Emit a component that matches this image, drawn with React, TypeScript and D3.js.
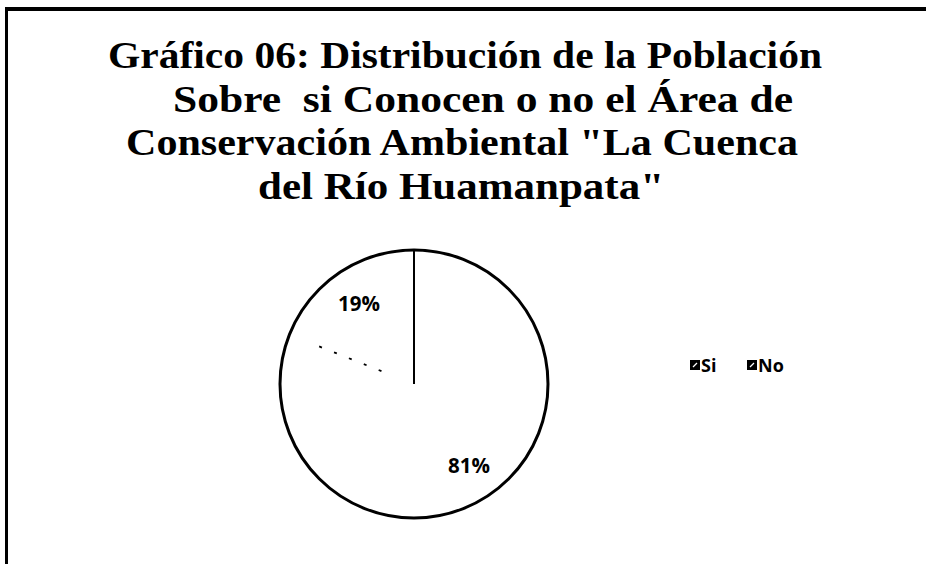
import React from "react";
import * as d3 from "d3";

const categories = ["Si", "No"];
const values = [81, 19];
const titleLines = [
  "Gráfico 06: Distribución de la Población",
  "Sobre  si Conocen o no el Área de",
  "Conservación Ambiental \"La Cuenca",
  "del Río Huamanpata\"",
];

export default function App() {
  const W = 926, H = 564;
  const cx = 414, cy = 384, r = 134;
  const pie = d3.pie<number>().sort(null).startAngle(0).endAngle(2 * Math.PI);
  const arcs = pie([values[0], values[1]]);
  const arcGen = d3.arc<d3.PieArcDatum<number>>().innerRadius(0).outerRadius(r);
  const labelArc = d3.arc<d3.PieArcDatum<number>>().innerRadius(r * 0.73).outerRadius(r * 0.73);
  const boundary = arcs[0].endAngle;
  const bx = Math.sin(boundary), by = -Math.cos(boundary);
  const titleBoxes = [
    { x: 108, w: 714 },
    { x: 173, w: 620 },
    { x: 126, w: 672 },
    { x: 258, w: 406 },
  ];

  return (
    <svg width={W} height={H} style={{ position: "absolute", left: 0, top: 0, background: "#fff" }}>
      <rect x={0} y={0} width={W} height={H} fill="#fff" />
      <line x1={6.5} y1={7} x2={6.5} y2={H} stroke="#000" strokeWidth={3} />
      <line x1={5} y1={9} x2={W} y2={9} stroke="#000" strokeWidth={4} />
      <g fontFamily="'Liberation Serif', 'Times New Roman', serif" fontWeight="bold" fontSize={37} fill="#000">
        {titleLines.map((t, i) => (
          <text key={i} x={titleBoxes[i].x} y={68 + i * 43.7} textLength={titleBoxes[i].w}
            lengthAdjust="spacingAndGlyphs" style={{ whiteSpace: "pre" }}>{t}</text>
        ))}
      </g>
      <g transform={`translate(${cx},${cy})`}>
        {arcs.map((a, i) => (
          <path key={i} d={arcGen(a) || ""} fill="#fff" stroke="none" />
        ))}
        <circle r={r} fill="none" stroke="#000" strokeWidth={3} />
        <line x1={0} y1={0} x2={0} y2={-r} stroke="#000" strokeWidth={2} />
        <line x1={bx * 35} y1={by * 35} x2={bx * 108} y2={by * 108} stroke="#000" strokeWidth={1.8} strokeDasharray="3 13" />
        {arcs.map((a, i) => {
          const [lx, ly] = labelArc.centroid(a);
          return (
            <text key={"l" + i} x={lx} y={ly} textAnchor="middle" dominantBaseline="central"
              fontFamily="'Open Sans', Lato, sans-serif" fontWeight="bold" fontSize={20.5} fill="#000">
              {d3.format(".0f")(a.data)}%
            </text>
          );
        })}
      </g>
      <g fontFamily="'Open Sans', Lato, sans-serif" fontWeight="bold" fontSize={18} fill="#000">
        {categories.map((c, i) => {
          const x0 = 690 + i * 57;
          return (
            <g key={c}>
              <rect x={x0} y={360} width={10} height={10} fill="#000" />
              <line x1={x0 + 3} y1={367} x2={x0 + 7} y2={363} stroke="#fff" strokeWidth={1.2} />
              <text x={x0 + 11} y={365} dominantBaseline="central">{c}</text>
            </g>
          );
        })}
      </g>
    </svg>
  );
}
